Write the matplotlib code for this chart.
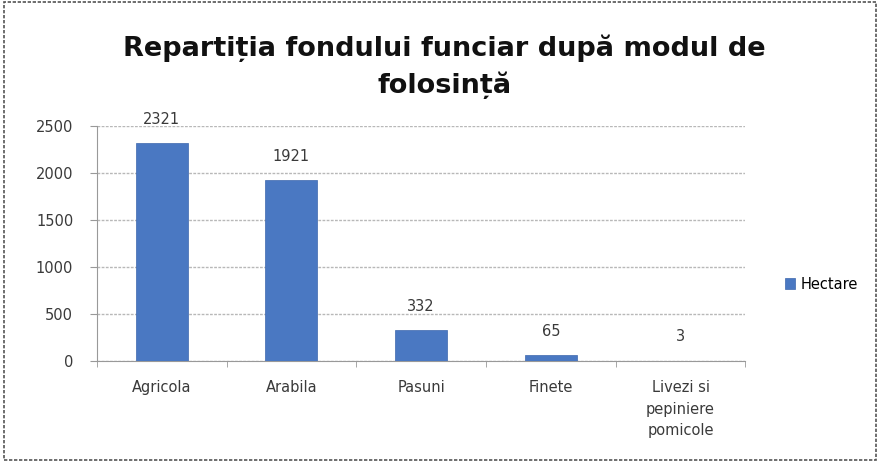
import matplotlib
matplotlib.use("Agg")
import matplotlib.pyplot as plt
from matplotlib.patches import Rectangle

categories = ["Agricola", "Arabila", "Pasuni", "Finete", "Livezi si\npepiniere\npomicole"]
values = [2321, 1921, 332, 65, 3]
yticks = [0, 500, 1000, 1500, 2000, 2500]
series_name = "Hectare"
title = "Repartiția fondului funciar după modul de\nfolosință"

plt.rcParams['font.family'] = ['DejaVu Sans']

fig = plt.figure(figsize=(8.8, 4.62), dpi=100)
ax = fig.add_axes([0.110, 0.219, 0.737, 0.508])

x = list(range(len(categories)))
bars = ax.bar(x, values, width=0.4, color='#4a78c2', edgecolor='#3d67ad', linewidth=0.5,
              label=series_name, zorder=3)
for xi, v in zip(x, values):
    ax.annotate(str(v), (xi, v), xytext=(0, 17), textcoords='offset points',
                ha='center', va='center', fontsize=10.5, color='#3a3a3a')

ax.set_xlim(-0.5, len(categories) - 0.5)
ax.set_ylim(0, 2500)
ax.set_yticks(yticks)
ax.set_yticklabels([str(t) for t in yticks], fontsize=10.5, color='#3a3a3a')
ax.set_xticks(x)
ax.set_xticklabels(categories, fontsize=10.5, color='#3a3a3a', linespacing=1.55)
ax.tick_params(axis='x', length=0, pad=14)
ax.tick_params(axis='y', length=5, color='#999999', pad=12)
ax.set_xticks([i + 0.5 for i in range(-1, len(categories))], minor=True)
ax.tick_params(axis='x', which='minor', length=4, color='#999999')
ax.grid(axis='y', color='#b8b8b8', linewidth=1, linestyle=(0, (2, 1)), zorder=0)
for s in ['top', 'right']:
    ax.spines[s].set_visible(False)
ax.spines['bottom'].set_color('#999999')
ax.spines['left'].set_color('#999999')

fig.legend(handles=[bars], labels=[series_name], loc='center left',
           bbox_to_anchor=(0.877, 0.385), frameon=False, fontsize=10.5,
           handlelength=0.7, handleheight=0.7, handletextpad=0.4)

fig.text(0.505, 0.855, title, ha='center', va='center', fontsize=19.5, fontweight='bold',
         color='#111111', linespacing=1.45)

fig.patches.append(Rectangle((0.004, 0.004), 0.992, 0.992, transform=fig.transFigure,
                             fill=False, edgecolor='#555555', linewidth=1.2,
                             linestyle=(0, (2, 1))))

fig.savefig("out.png", dpi=100)
